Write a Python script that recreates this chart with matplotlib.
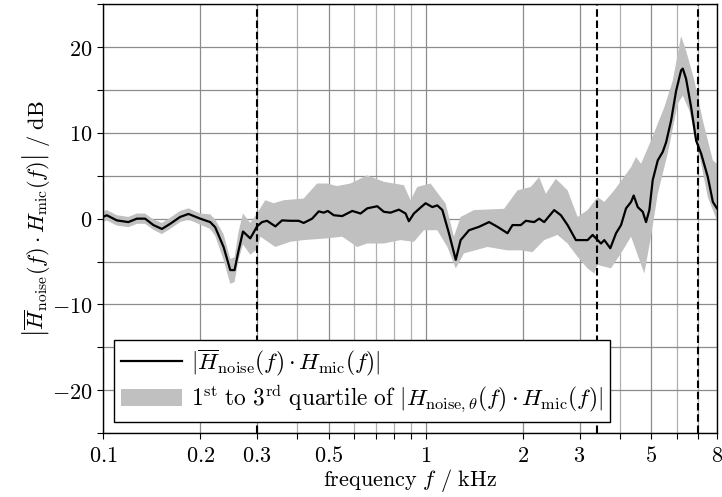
import matplotlib
matplotlib.use("Agg")
import matplotlib.pyplot as plt
from matplotlib.ticker import FixedLocator, FixedFormatter, MultipleLocator
import numpy as np

plt.rcParams['mathtext.fontset'] = 'cm'
plt.rcParams['font.family'] = 'serif'
plt.rcParams['font.serif'] = ['DejaVu Serif']

# mean response |H_noise_bar * H_mic| in dB
f_mean = [0.1, 0.1027, 0.1103, 0.1198, 0.1273, 0.1350, 0.1433, 0.1522, 0.1615, 0.1734,
          0.1840, 0.2001, 0.2149, 0.2227, 0.2364, 0.2480, 0.2557, 0.2632, 0.2716, 0.2861,
          0.3002, 0.3111, 0.3224, 0.3421, 0.3589, 0.3808, 0.4041, 0.4188, 0.4448, 0.4663,
          0.4833, 0.4973, 0.5191, 0.5512, 0.5923, 0.6284, 0.6592, 0.7079, 0.7421, 0.7785,
          0.8262, 0.8668, 0.8874, 0.9198, 0.9649, 1.0, 1.049, 1.087, 1.127, 1.181,
          1.240, 1.284, 1.363, 1.464, 1.573, 1.670, 1.794, 1.859, 1.972, 2.045,
          2.170, 2.249, 2.331, 2.503, 2.626, 2.755, 2.923, 3.066, 3.177, 3.294,
          3.497, 3.580, 3.737, 3.893, 4.034, 4.181, 4.334, 4.416, 4.545, 4.710,
          4.823, 4.938, 5.058, 5.244, 5.435, 5.565, 5.768, 5.977, 6.194, 6.270,
          6.419, 6.653, 6.895, 7.145, 7.496, 7.770, 8.0]
db_mean = [0.2, 0.4, -0.2, -0.4, 0.0, 0.0, -0.75, -1.2, -0.6, 0.2,
           0.55, 0.0, -0.4, -1.0, -3.3, -6.0, -6.0, -3.7, -1.5, -2.3,
           -0.9, -0.4, -0.25, -0.9, -0.2, -0.25, -0.25, -0.5, 0.0, 0.85,
           0.7, 0.9, 0.4, 0.3, 0.9, 0.6, 1.2, 1.45, 0.8, 0.7,
           1.05, 0.6, -0.3, 0.6, 1.3, 1.8, 1.35, 1.55, 1.0, -1.7,
           -4.8, -2.5, -1.35, -0.95, -0.4, -0.95, -1.7, -0.75, -0.75, -0.25,
           -0.4, 0.0, -0.4, 1.0, 0.4, -0.75, -2.5, -2.5, -2.5, -1.9,
           -2.9, -2.5, -3.45, -1.7, -0.75, 1.2, 1.95, 2.7, 1.35, 0.8,
           -0.4, 1.0, 4.5, 6.8, 7.8, 8.9, 11.45, 14.9, 17.3, 17.5,
           16.3, 13.0, 9.1, 7.6, 4.85, 1.95, 1.2]

# 3rd quartile (upper edge of band)
f_q3 = [0.1, 0.1027, 0.1103, 0.1198, 0.1273, 0.1350, 0.1433, 0.1522, 0.1615, 0.1734,
        0.1840, 0.2001, 0.2149, 0.2227, 0.2364, 0.2480, 0.2557, 0.2632, 0.2716, 0.2861,
        0.3002, 0.3184, 0.3380, 0.3630, 0.4188, 0.4610, 0.4952, 0.5317, 0.5849, 0.6592,
        0.7421, 0.8563, 0.8982, 0.9424, 1.036, 1.074, 1.154, 1.224, 1.284, 1.413,
        1.751, 1.927, 2.119, 2.249, 2.359, 2.533, 2.755, 2.959, 3.177, 3.414,
        3.580, 3.843, 4.334, 4.490, 4.654, 4.997, 5.497, 5.837, 6.194, 6.419,
        6.811, 7.233, 7.770, 8.0]
db_q3 = [0.9, 1.0, 0.4, 0.2, 0.6, 0.6, -0.1, -0.5, 0.1, 0.9,
         1.2, 0.6, 0.5, -0.1, -1.8, -4.7, -4.5, -1.5, 0.6, -0.5,
         0.6, 2.15, 1.8, 2.15, 2.35, 4.1, 4.1, 3.8, 4.1, 5.05,
         4.3, 3.9, 2.15, 3.7, 4.1, 3.3, 1.75, -2.1, 0.2, 1.0,
         1.15, 3.3, 3.7, 4.85, 2.9, 4.65, 3.3, 0.2, 1.0, 2.5,
         1.95, 3.3, 6.0, 7.2, 6.4, 9.1, 13.0, 16.1, 21.3, 19.6,
         16.1, 11.45, 6.8, 6.4]

# 1st quartile (lower edge of band)
f_q1 = [0.1, 0.1027, 0.1103, 0.1198, 0.1273, 0.1350, 0.1433, 0.1522, 0.1615, 0.1734,
        0.1840, 0.2001, 0.2149, 0.2227, 0.2364, 0.2480, 0.2557, 0.2632, 0.2716, 0.2861,
        0.3002, 0.3074, 0.3421, 0.3808, 0.4188, 0.4952, 0.5512, 0.6138, 0.6592, 0.7421,
        0.8364, 0.9198, 0.9879, 1.087, 1.168, 1.240, 1.315, 1.555, 1.794, 1.972,
        2.145, 2.331, 2.564, 2.755, 2.959, 3.177, 3.332, 3.414, 3.754, 4.034,
        4.334, 4.764, 4.997, 5.244, 5.631, 6.049, 6.270, 6.572, 6.981, 7.496,
        8.0]
db_q1 = [-0.4, -0.2, -0.8, -1.0, -0.6, -0.6, -1.3, -1.8, -1.2, -0.4,
         -0.1, -0.7, -1.2, -2.0, -4.8, -7.6, -7.4, -4.8, -3.0, -4.2,
         -3.6, -2.1, -3.3, -2.7, -2.5, -2.3, -2.1, -3.3, -2.9, -2.9,
         -2.5, -2.7, -1.35, -1.35, -3.3, -5.8, -4.05, -3.3, -3.7, -3.7,
         -3.9, -2.5, -1.9, -2.9, -4.45, -5.8, -6.4, -5.4, -5.8, -4.05,
         -2.1, -6.4, -2.1, 2.9, 7.6, 13.4, 14.35, 12.6, 8.35, 2.5,
         -0.2]

band_freqs = [0.3, 3.4, 7.0]

x_major = [0.1, 0.2, 0.3, 0.5, 1, 2, 3, 5, 8]
x_major_labels = ['$0.1$', '$0.2$', '$0.3$', '$0.5$', '$1$', '$2$', '$3$', '$5$', '$8$']
x_minor = [0.4, 0.6, 0.7, 0.8, 0.9, 4, 6, 7]

fs = 16

fig = plt.figure(figsize=(7.22, 4.97), dpi=100)
ax = fig.add_axes([0.1427, 0.1288, 0.8503, 0.8625])

# quartile band as a polygon: upper edge forward, lower edge back
poly_x = np.concatenate([f_q3, f_q1[::-1]])
poly_y = np.concatenate([db_q3, db_q1[::-1]])
band = ax.fill(poly_x, poly_y, color='#c0c0c0', lw=0, zorder=2)[0]

line, = ax.plot(f_mean, db_mean, color='black', lw=1.6, zorder=4)

for fb in band_freqs:
    ax.axvline(fb, color='black', lw=1.5, linestyle=(0, (3.6, 1.8)), zorder=5)

ax.set_xscale('log')
ax.set_xlim(0.1, 8)
ax.set_ylim(-25, 25)

ax.xaxis.set_major_locator(FixedLocator(x_major))
ax.xaxis.set_major_formatter(FixedFormatter(x_major_labels))
ax.xaxis.set_minor_locator(FixedLocator(x_minor))
ax.xaxis.set_minor_formatter(FixedFormatter([''] * len(x_minor)))
ax.yaxis.set_major_locator(MultipleLocator(10))
ax.yaxis.set_minor_locator(MultipleLocator(5))
ax.yaxis.set_major_formatter(plt.FuncFormatter(
    lambda v, p: '$%d$' % v if v >= 0 else r'$-%d$' % (-v)))

ax.tick_params(which='both', direction='out', length=4, width=0.8, labelsize=fs,
               top=False, right=False)
ax.tick_params(axis='x', which='major', pad=5)

ax.grid(True, which='major', axis='both', color='#8c8c8c', lw=0.9, zorder=1)
ax.grid(True, which='minor', axis='y', color='#8c8c8c', lw=0.9, zorder=1)
ax.grid(True, which='minor', axis='x', color='#b0b0b0', lw=0.9, zorder=1)
ax.set_axisbelow(True)

for sp in ax.spines.values():
    sp.set_linewidth(1.0)
    sp.set_zorder(6)

ax.set_xlabel(r'$\mathrm{frequency}\ f\ /\ \mathrm{kHz}$', fontsize=fs, labelpad=0)
ax.set_ylabel(r'$\left|\overline{H}_{\mathrm{noise}}(f)\cdot H_{\mathrm{mic}}(f)\right|\ /\ \mathrm{dB}$',
              fontsize=fs, labelpad=0)

leg = ax.legend([line, band],
                [r'$|\overline{H}_{\mathrm{noise}}(f)\cdot H_{\mathrm{mic}}(f)|$',
                 r'$1^{\mathrm{st}}\ \mathrm{to}\ 3^{\mathrm{rd}}\ \mathrm{quartile\ of}\ |H_{\mathrm{noise},\theta}(f)\cdot H_{\mathrm{mic}}(f)|$'],
                loc='lower left', bbox_to_anchor=(0.018, 0.026), borderaxespad=0,
                fontsize=16.8, fancybox=False, framealpha=1, edgecolor='black',
                handlelength=2.6, labelspacing=0.2, borderpad=0.3, handletextpad=0.4)
leg.get_frame().set_linewidth(1.0)
leg.set_zorder(7)

fig.savefig('out.png', dpi=100)
